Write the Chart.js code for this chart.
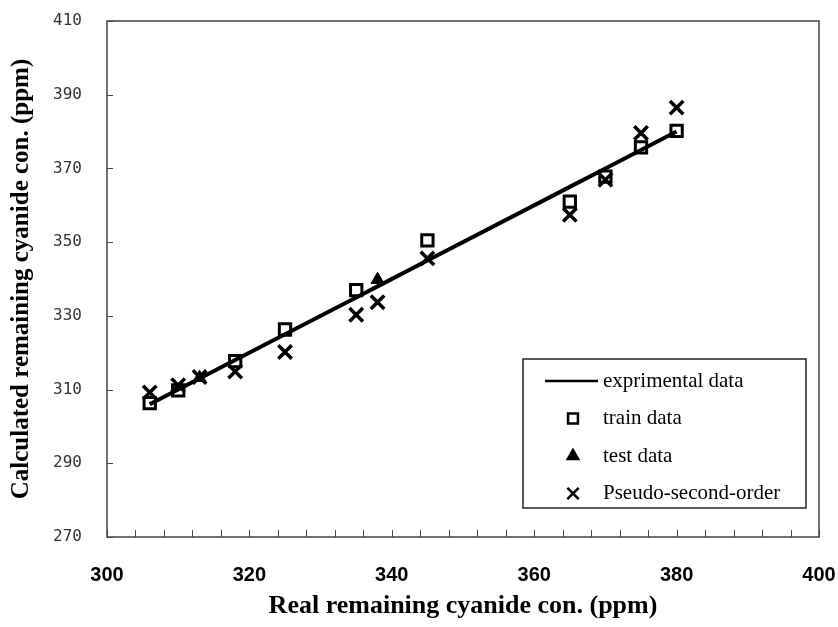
<!DOCTYPE html>
<html>
<head>
<meta charset="utf-8">
<script src="https://cdn.jsdelivr.net/npm/chart.js@4.4.1/dist/chart.umd.min.js"></script>
<style>
body { margin:0; background:#fff; }
</style>
</head>
<body>
<canvas id="myChart" width="838" height="627"></canvas>
<script>
// データ
const realX = [306, 310, 313, 318, 325, 335, 338, 345, 365, 370, 375, 380];
const exprimentalY = [306, 310, 313, 318, 325, 335, 338, 345, 365, 370, 375, 380];
const trainX = [306, 310, 318, 325, 335, 345, 365, 370, 375, 380];
const trainY = [306.3, 309.8, 317.7, 326.3, 337, 350.5, 361, 367.8, 375.7, 380.2];
const testX = [313, 338];
const testY = [313.2, 339.8];
const pseudoY = [309.2, 311.2, 313.4, 314.9, 320.2, 330.3, 333.7, 345.6, 357.4, 366.9, 379.6, 386.5];
const xLabels = [300, 320, 340, 360, 380, 400];
const yLabels = [270, 290, 310, 330, 350, 370, 390, 410];

function toPoints(xs, ys)
{
	return xs.map((x, i) => ({ x: x, y: ys[i] }));
}

// 枠線と内向きの目盛り
const frame = {
	id: 'frame',
	afterDraw(chart)
	{
		const ctx = chart.ctx;
		const ca = chart.chartArea;
		const xs = chart.scales.x;
		const ys = chart.scales.y;
		ctx.save();
		ctx.strokeStyle = '#444';
		ctx.lineWidth = 1.5;
		ctx.strokeRect(ca.left, ca.top, ca.right - ca.left, ca.bottom - ca.top);
		ctx.lineWidth = 1;
		ctx.beginPath();
		xs.ticks.forEach(t => {
			const px = Math.round(xs.getPixelForValue(t.value)) + 0.5;
			ctx.moveTo(px, ca.bottom);
			ctx.lineTo(px, ca.bottom - 7);
		});
		ys.ticks.forEach(t => {
			const py = Math.round(ys.getPixelForValue(t.value)) + 0.5;
			ctx.moveTo(ca.left, py);
			ctx.lineTo(ca.left + 6, py);
		});
		ctx.stroke();
		ctx.restore();
	}
};

// 凡例 (グラフ内の枠)
const boxLegend = {
	id: 'boxLegend',
	afterDraw(chart)
	{
		const ctx = chart.ctx;
		const ca = chart.chartArea;
		const bx = ca.left + 416, by = ca.top + 338, bw = 283, bh = 149;
		ctx.save();
		ctx.fillStyle = '#fff';
		ctx.fillRect(bx, by, bw, bh);
		ctx.strokeStyle = '#222';
		ctx.lineWidth = 1.5;
		ctx.strokeRect(bx, by, bw, bh);
		ctx.font = '21px "Liberation Serif", "DejaVu Serif", serif';
		ctx.textBaseline = 'middle';
		chart.data.datasets.forEach((ds, i) => {
			const cy = by + 22 + i * 37.5;
			ctx.strokeStyle = '#000';
			if (ds.showLine)
			{
				ctx.lineWidth = 2.5;
				ctx.beginPath();
				ctx.moveTo(bx + 22, cy);
				ctx.lineTo(bx + 75, cy);
				ctx.stroke();
			}
			else
			{
				ctx.fillStyle = ds.pointStyle === 'rect' ? 'rgba(0,0,0,0)' : '#000';
				let r = 8;
				if (ds.pointStyle === 'rect') r = 7;
				if (ds.pointStyle === 'triangle') r = 6;
				Chart.helpers.drawPoint(ctx, {
					pointStyle: ds.pointStyle,
					radius: r,
					borderWidth: ds.pointStyle === 'triangle' ? 1 : 3,
					rotation: 0
				}, bx + 50, cy);
			}
			ctx.fillStyle = '#000';
			ctx.fillText(ds.label, bx + 80, cy);
		});
		ctx.restore();
	}
};

const ctx = document.getElementById('myChart').getContext('2d');
const myChart = new Chart(ctx, {
	type: 'scatter',
	data: {
		datasets: [
			{
				label: 'exprimental data',
				data: toPoints(realX, exprimentalY),
				showLine: true,
				borderColor: '#000',
				borderWidth: 4,
				pointRadius: 0,
				pointStyle: 'line'
			},
			{
				label: 'train data',
				data: toPoints(trainX, trainY),
				pointStyle: 'rect',
				pointRadius: 8,
				borderWidth: 3,
				borderColor: '#000',
				backgroundColor: 'rgba(0,0,0,0)'
			},
			{
				label: 'test data',
				data: toPoints(testX, testY),
				pointStyle: 'triangle',
				pointRadius: 7.5,
				borderWidth: 1,
				borderColor: '#000',
				backgroundColor: '#000'
			},
			{
				label: 'Pseudo-second-order',
				data: toPoints(realX, pseudoY),
				pointStyle: 'crossRot',
				pointRadius: 9.5,
				borderWidth: 3.5,
				borderColor: '#000',
				backgroundColor: '#000'
			}
		]
	},
	options: {
		responsive: false,
		animation: false,
		layout: { padding: { top: 21, right: 19, left: 0, bottom: 0 } },
		plugins: {
			legend: { display: false },
			tooltip: { enabled: false }
		},
		scales: {
			x: {
				type: 'linear',
				min: 300,
				max: 400,
				afterFit: s => { s.height = 90; s.paddingLeft = 0; s.paddingRight = 0; },
				border: { display: false },
				grid: { display: false },
				ticks: {
					stepSize: 4,
					autoSkip: false,
					maxRotation: 0,
					padding: 18,
					color: '#000',
					font: { family: '"Liberation Sans Narrow", "Liberation Sans", sans-serif', size: 20, weight: 'bold' },
					callback: v => xLabels.includes(v) ? v : ''
				},
				title: {
					display: true,
					text: 'Real remaining cyanide con. (ppm)',
					color: '#000',
					font: { family: '"Liberation Serif", serif', size: 26, weight: 'bold' },
					padding: { top: 0, bottom: 5 }
				}
			},
			y: {
				type: 'linear',
				min: 270,
				max: 410,
				afterFit: s => { s.width = 107; s.paddingTop = 0; s.paddingBottom = 0; },
				border: { display: false },
				grid: { display: false },
				ticks: {
					stepSize: 20,
					padding: 17,
					color: '#333',
					font: { family: '"DejaVu Sans Mono", monospace', size: 16 },
					callback: v => yLabels.includes(v) ? v : ''
				},
				title: {
					display: true,
					text: 'Calculated remaining cyanide con. (ppm)',
					color: '#000',
					font: { family: '"Liberation Serif", serif', size: 25, weight: 'bold' },
					padding: { top: 7, bottom: 0 }
				}
			}
		}
	},
	plugins: [frame, boxLegend]
});
</script>
</body>
</html>
